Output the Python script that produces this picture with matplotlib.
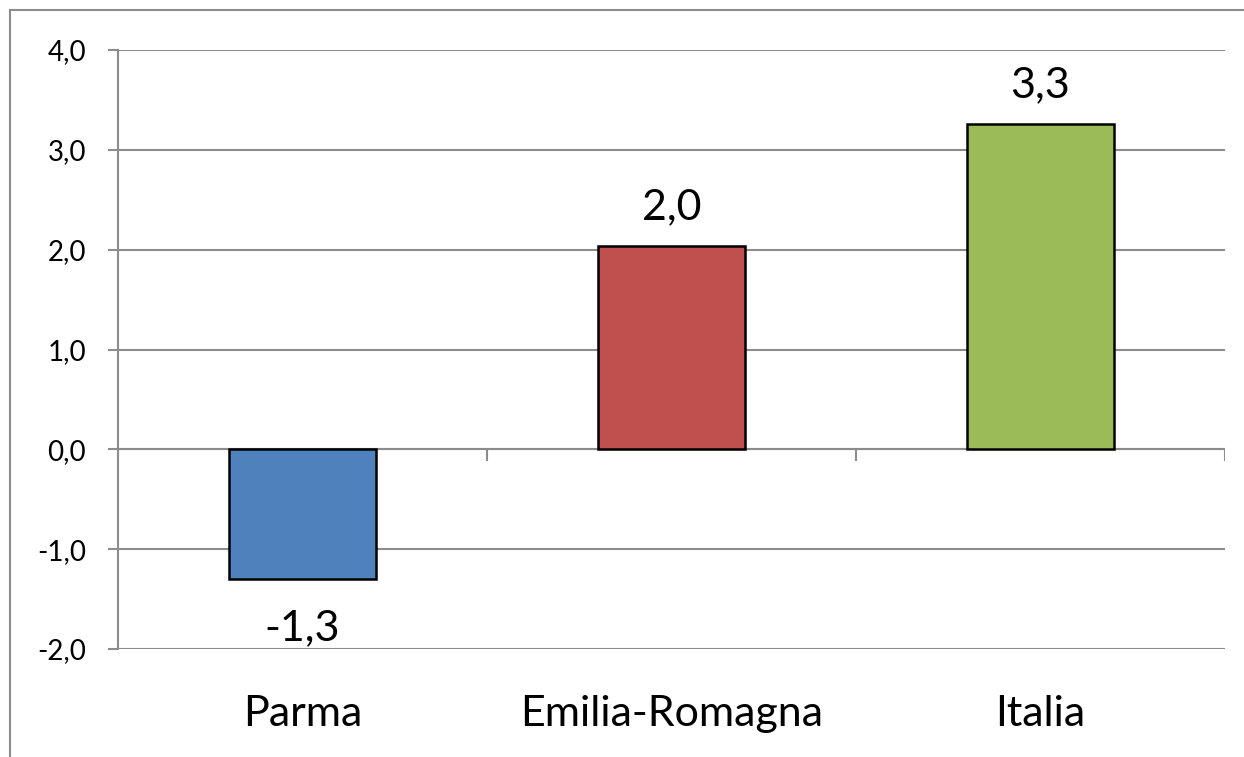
import matplotlib
matplotlib.use("Agg")
import matplotlib.pyplot as plt
from matplotlib.patches import Rectangle
from matplotlib.ticker import FuncFormatter

plt.rcParams['font.family'] = ['Lato', 'DejaVu Sans']

categories = ["Parma", "Emilia-Romagna", "Italia"]
values = [-1.3, 2.04, 3.26]
labels = ["-1,3", "2,0", "3,3"]
colors = ["#4F81BD", "#C0504D", "#9BBB59"]

grid_col = "#8c8c8c"

fig = plt.figure(figsize=(12.44, 7.57), dpi=100)
ax = fig.add_axes([118 / 1244, 1 - 649 / 757, (1225 - 118) / 1244, (649 - 50) / 757])

x = range(len(categories))
ax.bar(x, values, width=0.4, color=colors, edgecolor="black", linewidth=1.8, zorder=3)

ax.set_xlim(-0.5, 2.5)
ax.set_ylim(-2, 4)
ax.set_yticks([-2, -1, 0, 1, 2, 3, 4])
ax.yaxis.set_major_formatter(FuncFormatter(lambda v, p: f"{v:.1f}".replace(".", ",")))
ax.yaxis.grid(True, color=grid_col, linewidth=1.5, zorder=0)
ax.tick_params(axis='y', length=7, width=1.5, color=grid_col, pad=16, labelsize=20)

ax.set_xticks(list(x))
ax.set_xticklabels(categories, fontsize=31)
ax.tick_params(axis='x', length=0, pad=33)

for s in ["top", "right", "bottom"]:
    ax.spines[s].set_visible(False)
ax.spines["left"].set_color(grid_col)
ax.spines["left"].set_linewidth(1.5)

# category axis sits on zero, with separator ticks going down
ax.axhline(0, color=grid_col, linewidth=1.5, zorder=2)
ax.vlines([0.5, 1.5, 2.5], -0.12, 0, color=grid_col, linewidth=1.5, zorder=2)

for xi, v, lab in zip(x, values, labels):
    off = 14 if v >= 0 else -22
    ax.annotate(lab, (xi, v), xytext=(0, off), textcoords="offset points",
                ha="center", va="bottom" if v >= 0 else "top", fontsize=31)

# outer chart frame (partly cut off in the original)
fig.add_artist(Rectangle((10 / 1244, -0.2), 1.2, 1.2 - 10 / 757,
                         transform=fig.transFigure, fill=False,
                         edgecolor=grid_col, linewidth=1.5))

fig.savefig("out.png", dpi=100)
